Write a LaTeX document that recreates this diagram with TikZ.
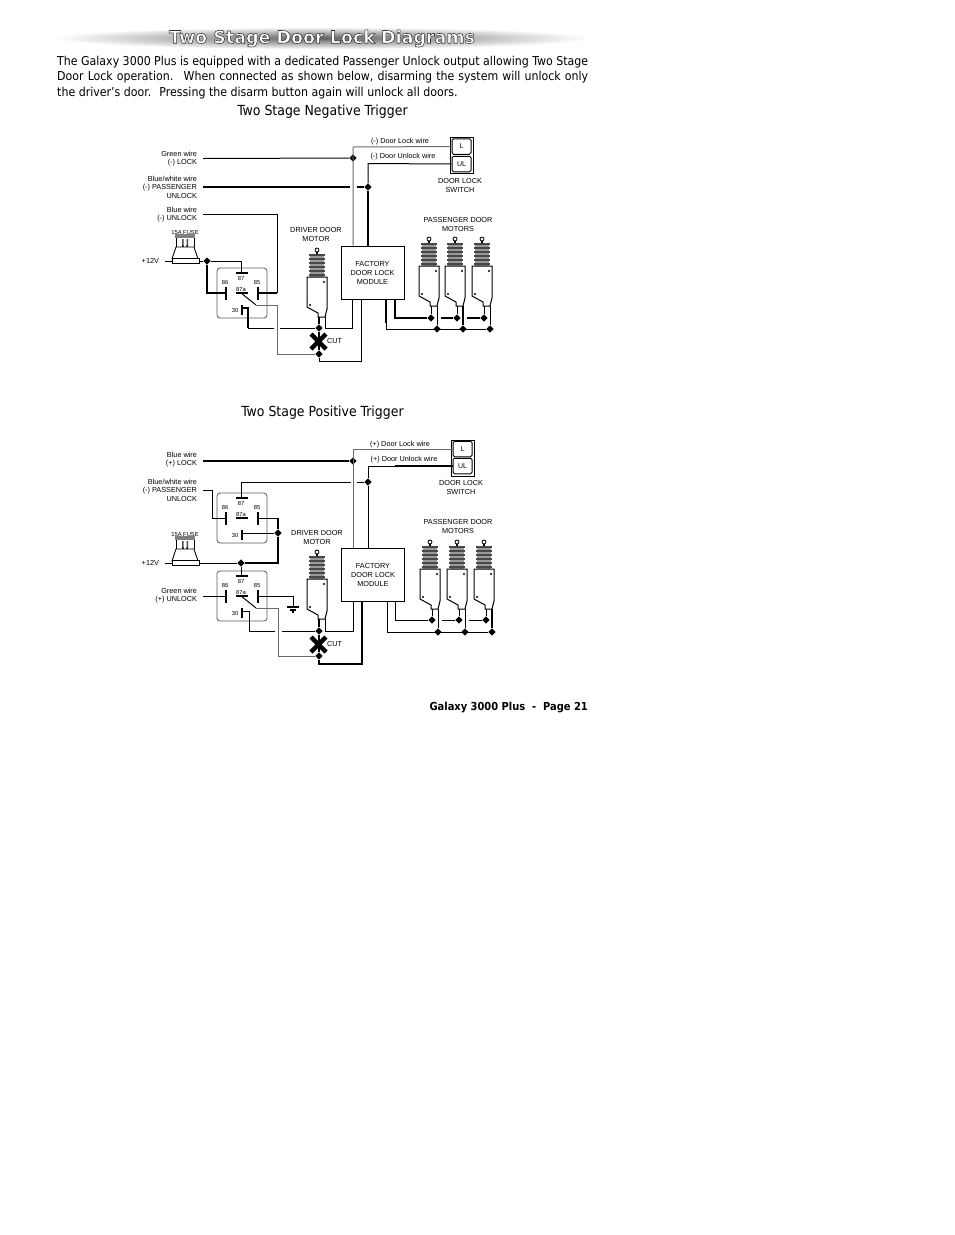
\documentclass[tikz,border=0pt]{standalone}
\usepackage{fontspec}
\setmainfont{DejaVu Sans Condensed}
\newfontfamily\labelfont{Liberation Sans}
\newfontfamily\titlefont{DejaVu Sans}[BoldFont={DejaVu Sans Bold}]
\usetikzlibrary{shapes.geometric,fadings}
\tikzset{
wire/.style={line width=1pt},
heavy/.style={line width=2pt},
greywire/.style={line width=1pt, draw=black!58},
wirelab/.style={anchor=east, align=right, inner sep=0pt, outer xsep=6pt, font=\labelfont\fontsize{7.3}{8.6}\selectfont},
diaglab/.style={align=center, inner sep=0pt, font=\labelfont\fontsize{7.3}{9}\selectfont},
pinlab/.style={inner sep=0pt, font=\labelfont\fontsize{5.8}{6}\selectfont},
jn/.style={diamond, fill=black, inner sep=0pt, minimum size=7.5pt},
module/.style={draw, fill=white, line width=0.9pt, minimum width=63pt, minimum height=53pt, align=center, inner sep=0pt, font=\labelfont\fontsize{7.3}{9}\selectfont},
swbox/.style={draw, fill=white, line width=1pt, rounded corners=1.5pt, minimum width=19pt, minimum height=15.5pt, inner sep=0pt, font=\labelfont\fontsize{7}{8}\selectfont},
cutx/.style={line width=4.4pt},
relay/.pic={
 \draw[line width=0.8pt, draw=black!65, rounded corners=3pt] (0,0) rectangle (50,50);
 \draw[heavy] (9,19) -- (9,32);
 \draw[heavy] (41,19) -- (41,32);
 \draw[heavy] (19,5) -- (31,5);
 \draw[heavy] (19,25) -- (31,25);
 \draw[heavy] (25,37) -- (25,47);
 \node[pinlab] (-n86) at (8,14) {86};
 \node[pinlab] (-n85) at (40,14) {85};
 \node[pinlab] (-n87) at (24,10) {87};
 \node[pinlab] (-n87a) at (24,21) {87a};
 \node[pinlab] (-n30) at (18,42) {30};
 \coordinate (-86) at (9,25);
 \coordinate (-85) at (41,25);
 \coordinate (-87) at (24,5);
 \coordinate (-87a) at (24,25);
 \coordinate (-30) at (25,40);
 \coordinate (-arm) at (39,37);
},
motor/.pic={
 \draw[line width=0.8pt] (0,2) circle (2);
 \draw[line width=1.2pt] (0,4) -- (0,7);
 \fill[black!40] (-7,6) rectangle (7,29);
 \foreach \r in {6,10,14,18,22,26} {\fill[black!72] (-8,\r) rectangle (8,\r+2.2);}
 \draw[line width=1pt, fill=white] (-10,29) -- (10,29) -- (10,61) -- (8,69) -- (1,69) -- (1,65) -- (-10,59) -- cycle;
 \fill (7,34) circle (1.1);
 \fill (-7,57) circle (1.1);
 \coordinate (-a) at (2,69);
 \coordinate (-b) at (8,69);
},
fuse/.pic={
 \fill[black!50] (3,-25) rectangle (23,-21);
 \draw[line width=0.7pt] (4,-21) -- (4,-12) (22,-21) -- (22,-12);
 \fill[black!70] (10,-20) rectangle (11.5,-12) (14.5,-20) rectangle (16,-12);
 \draw[line width=0.8pt] (10.5,-14) -- (13,-9) -- (15.5,-14);
 \draw[line width=0.8pt, fill=white] (4,-12) -- (22,-12) -- (26,0) -- (0,0) -- cycle;
 \draw[line width=0.9pt, fill=white] (0,-0.5) rectangle (27,4);
 \coordinate (-w) at (0,2);
 \coordinate (-e) at (27,2);
}
}
\begin{document}
\begin{tikzpicture}[x=1pt,y=-1pt]
\useasboundingbox (0,0) rectangle (954,1235);
\fill[white] (0,0) rectangle (954,1235);

\shade[inner color=black!62, outer color=white, draw=none] (322,38) ellipse (268 and 11);
\node[inner sep=0pt] (title) at (322,38.5) {\titlefont\bfseries\fontsize{17.5}{20}\selectfont\special{pdf:code q 2 Tr 0.55 w 0.2 0.2 0.2 RG 1 1 1 rg}Two Stage Door Lock Diagrams\special{pdf:code Q}};
\node[anchor=north west, align=left, inner sep=0pt, font=\fontsize{12.25}{15.5}\selectfont] (intro) at (57,55.5) {\hbox to 531pt{The Galaxy 3000 Plus is equipped with a dedicated Passenger Unlock output allowing Two Stage}\\\hbox to 531pt{Door Lock operation.~ When connected as shown below, disarming the system will unlock only}\\the driver's door.~ Pressing the disarm button again will unlock all doors.};
\node[inner sep=0pt, font=\fontsize{13.9}{16}\selectfont] (headA) at (322.5,111.5) {Two Stage Negative Trigger};
\node[inner sep=0pt, font=\fontsize{13.9}{16}\selectfont] (headB) at (322.5,412.5) {Two Stage Positive Trigger};
\node[anchor=east, inner sep=0pt, font=\bfseries\fontsize{11}{12}\selectfont] (foot) at (588,707) {Galaxy 3000 Plus~ -~ Page 21};

\node[wirelab] (greenA) at (203,158.5) {Green wire\\(-) LOCK};
\node[wirelab] (pasA) at (203,187) {Blue/white wire\\(-) PASSENGER\\UNLOCK};
\node[wirelab] (blueA) at (203,214.5) {Blue wire\\(-) UNLOCK};
\node[wirelab] (powA) at (165,261) {+12V};
\node[pinlab] (fuselabA) at (185,232) {15A FUSE};
\node[diaglab] (drvlabA) at (316,234.5) {DRIVER DOOR\\MOTOR};
\node[diaglab] (paslabA) at (458,224.5) {PASSENGER DOOR\\MOTORS};
\node[diaglab] (swlabA) at (460,185) {DOOR LOCK\\SWITCH};
\node[diaglab] (locklabA) at (400,142) {(-) Door Lock wire};
\node[diaglab] (unllabA) at (403,157) {(-) Door Unlock wire};
\node[diaglab, anchor=west] (cutA) at (327,341) {CUT};
\node[module] (modA) at (372.5,272.5) {FACTORY\\DOOR LOCK\\MODULE};
\node[draw, line width=1pt, minimum width=23pt, minimum height=36pt, inner sep=0pt] (swA) at (461.5,155) {};
\node[swbox] (swLA) at (461.5,146.5) {L};
\node[swbox] (swUA) at (461.5,164) {UL};
\pic (fuseA) at (172,259) {fuse};
\pic (rlyA) at (217,268) {relay};
\pic (drvA) at (317,248) {motor};
\pic (m1A) at (429,237) {motor};
\pic (m2A) at (455,237) {motor};
\pic (m3A) at (482,237) {motor};
\node[jn] (j1A) at (353,158) {};
\node[jn] (j2A) at (368,187) {};
\node[jn] (j3A) at (207,261) {};
\node[jn] (j4A) at (319,328) {};
\node[jn] (j5A) at (319,354) {};
\node[jn] (j6A) at (431,318) {};
\node[jn] (j7A) at (457,318) {};
\node[jn] (j8A) at (484,318) {};
\node[jn] (j9A) at (437,329) {};
\node[jn] (j10A) at (463,329) {};
\node[jn] (j11A) at (490,329) {};

\draw[wire] (greenA.east) -- (j1A);
\draw[heavy] (pasA.east) -- (350,187);
\draw[heavy] (357,187) -- (j2A);
\draw[wire] (blueA.east) -- (277,214.5) -- (277,293);
\draw[heavy] (277,293) -- (rlyA-85);
\draw[wire] (powA.east) -- (fuseA-w);
\draw[wire] (fuseA-e) -- (j3A) -- (241,261) -- (rlyA-87);
\draw[heavy] (j3A) -- (207,293) -- (rlyA-86);
\draw[wire] (rlyA-87a) -- (rlyA-arm);
\draw[greywire] (rlyA-arm) -- (277,305) -- (277,354) -- (j5A);
\draw[heavy] (rlyA-30) -- (248,308) -- (248,328);
\draw[wire] (248,328) -- (274,328);
\draw[wire] (280,328) -- (j4A);
\draw[heavy] (drvA-a) -- (j4A);
\draw[wire] (drvA-b) -- (325,328) -- (352,328) -- (352,0 |- modA.south);
\draw[greywire] (353,0 |- modA.north) -- (353,147) -- (swLA.west);
\draw[heavy] (368,0 |- modA.north) -- (j2A);
\draw[wire] (j2A) -- (368,163.5) -- (swUA.west);
\draw[wire] (j5A) -- (319,361.5) -- (361,361.5) -- (361,0 |- modA.south);
\draw[heavy] (j4A) -- (j5A);
\draw[heavy] (395,0 |- modA.south) -- (395,318) -- (j6A);
\draw[heavy] (441,318) -- (j7A);
\draw[heavy] (467,318) -- (j8A);
\draw[heavy] (386,0 |- modA.south) -- (386,323);
\draw[wire] (386,323) -- (386,329) -- (j11A);
\draw[wire] (m1A-a) -- (j6A);
\draw[wire] (m1A-b) -- (j9A);
\draw[wire] (m2A-a) -- (j7A);
\draw[heavy] (m2A-b) -- (j10A);
\draw[wire] (m3A-a) -- (j8A);
\draw[wire] (m3A-b) -- (j11A);
\draw[cutx] (311,334) -- (326,349) (326,334) -- (311,349);

\node[wirelab] (blueB) at (203,459.5) {Blue wire\\(+) LOCK};
\node[wirelab] (pasB) at (203,490) {Blue/white wire\\(-) PASSENGER\\UNLOCK};
\node[wirelab] (powB) at (165,563) {+12V};
\node[wirelab] (greenB) at (203,595.5) {Green wire\\(+) UNLOCK};
\node[pinlab] (fuselabB) at (185,534) {15A FUSE};
\node[diaglab] (drvlabB) at (317,537.5) {DRIVER DOOR\\MOTOR};
\node[diaglab] (paslabB) at (458,526.5) {PASSENGER DOOR\\MOTORS};
\node[diaglab] (swlabB) at (461,487.5) {DOOR LOCK\\SWITCH};
\node[diaglab] (locklabB) at (400,445) {(+) Door Lock wire};
\node[diaglab] (unllabB) at (404,460) {(+) Door Unlock wire};
\node[diaglab, anchor=west] (cutB) at (327,643.5) {CUT};
\node[module] (modB) at (373,574.5) {FACTORY\\DOOR LOCK\\MODULE};
\node[draw, line width=1pt, minimum width=23pt, minimum height=36pt, inner sep=0pt] (swB) at (462.5,458) {};
\node[swbox] (swLB) at (462.5,449) {L};
\node[swbox] (swUB) at (462.5,466) {UL};
\coordinate (gndB) at (293,607);
\pic (fuseB) at (172,561) {fuse};
\pic (rlyB) at (217,493) {relay};
\pic (rlyC) at (217,571) {relay};
\pic (drvB) at (317,550) {motor};
\pic (m1B) at (430,540) {motor};
\pic (m2B) at (457,540) {motor};
\pic (m3B) at (484,540) {motor};
\node[jn] (j1B) at (353,461) {};
\node[jn] (j2B) at (368,482) {};
\node[jn] (j3B) at (241,563) {};
\node[jn] (j4B) at (278,533) {};
\node[jn] (j5B) at (319,631) {};
\node[jn] (j6B) at (319,656) {};
\node[jn] (j7B) at (432,620) {};
\node[jn] (j8B) at (459,620) {};
\node[jn] (j9B) at (486,620) {};
\node[jn] (j10B) at (438,632) {};
\node[jn] (j11B) at (465,632) {};
\node[jn] (j12B) at (492,632) {};

\draw[heavy] (blueB.east |- j1B) -- (j1B);
\draw[wire] (pasB.east) -- (212,490) -- (212,518) -- (rlyB-86);
\draw[wire] (rlyB-87) -- (241,482) -- (351,482);
\draw[wire] (357,482) -- (j2B);
\draw[wire] (rlyB-85) -- (278,518);
\draw[heavy] (278,518) -- (j4B) -- (278,563) -- (j3B);
\draw[wire] (rlyB-30) -- (j4B);
\draw[wire] (powB.east) -- (fuseB-w);
\draw[wire] (fuseB-e) -- (j3B);
\draw[wire] (j3B) -- (rlyC-87);
\draw[wire] (greenB.east |- rlyC-86) -- (rlyC-86);
\draw[wire] (rlyC-85) -- (293,596) -- (gndB);
\draw[heavy] (287,607) -- (299,607);
\draw[heavy] (290,609.7) -- (296,609.7);
\draw[heavy] (292,612.4) -- (294,612.4);
\draw[wire] (rlyC-87a) -- (rlyC-arm);
\draw[greywire] (rlyC-arm) -- (278,608) -- (278,656) -- (j6B);
\draw[wire] (rlyC-30) -- (249,611) -- (249,631) -- (275,631);
\draw[wire] (282,631) -- (j5B);
\draw[heavy] (drvB-a) -- (j5B);
\draw[wire] (drvB-b) -- (325,631) -- (353,631) -- (353,0 |- modB.south);
\draw[greywire] (353,0 |- modB.north) -- (353,449) -- (swLB.west);
\draw[wire] (368,0 |- modB.north) -- (j2B);
\draw[wire] (j2B) -- (368,466) -- (395,466);
\draw[heavy] (395,466) -- (swUB.west);
\draw[heavy] (j5B) -- (j6B) -- (319,664) -- (362,664) -- (362,0 |- modB.south);
\draw[wire] (395,0 |- modB.south) -- (395,620) -- (j7B);
\draw[wire] (442,620) -- (j8B);
\draw[wire] (469,620) -- (j9B);
\draw[wire] (387,0 |- modB.south) -- (387,632) -- (j12B);
\draw[wire] (m1B-a) -- (j7B);
\draw[wire] (m1B-b) -- (j10B);
\draw[wire] (m2B-a) -- (j8B);
\draw[wire] (m2B-b) -- (j11B);
\draw[wire] (m3B-a) -- (j9B);
\draw[heavy] (m3B-b) -- (j12B);
\draw[cutx] (311,637) -- (326,652) (326,637) -- (311,652);
\end{tikzpicture}
\end{document}
